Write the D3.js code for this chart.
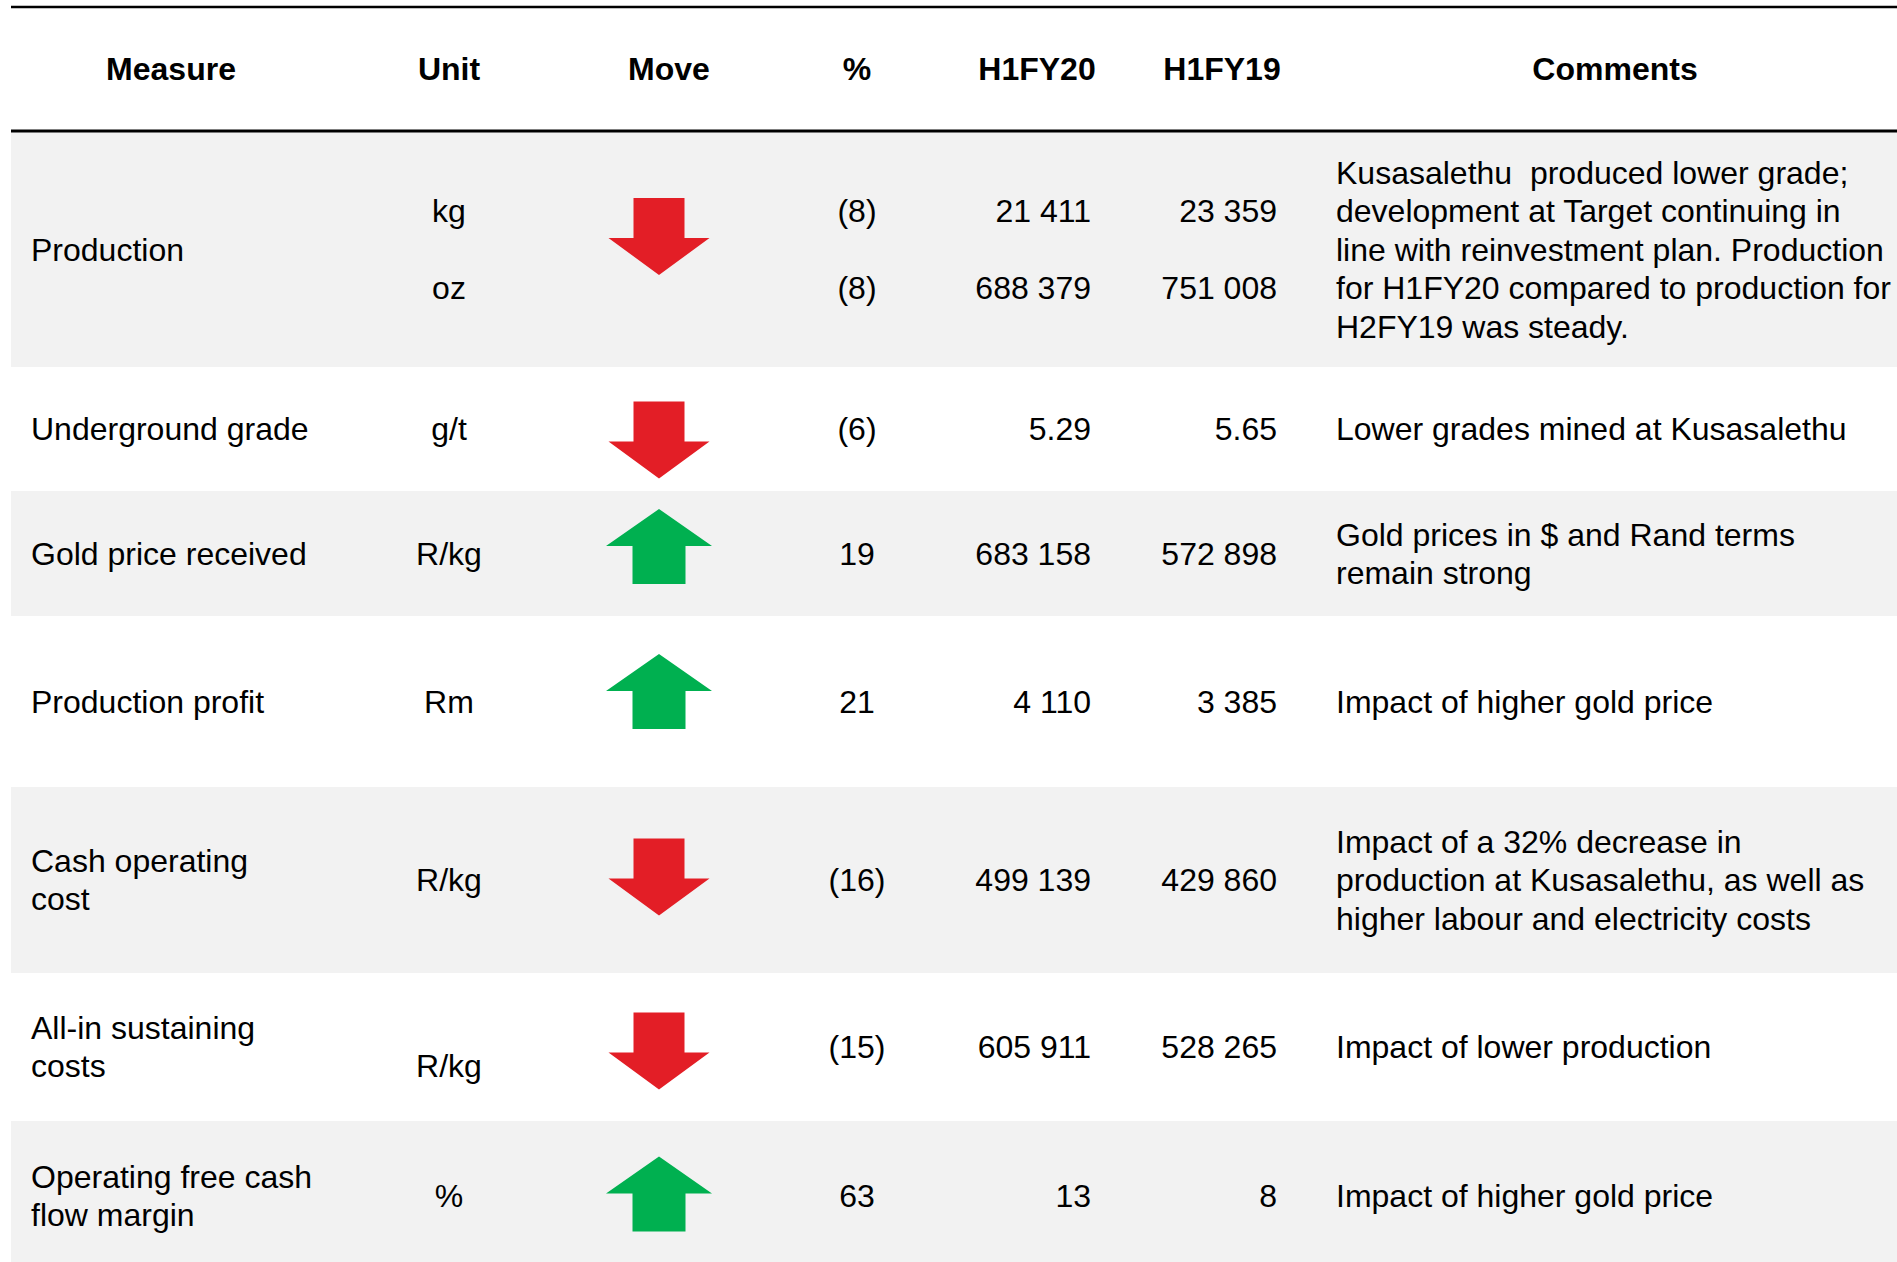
<!DOCTYPE html>
<html>
<head>
<meta charset="utf-8">
<script src="https://cdn.jsdelivr.net/npm/d3@7"></script>
<style>
  html, body { margin: 0; padding: 0; background: #fff; overflow: hidden; }
  svg { display: block; }
  text { font-family: "Liberation Sans", Arial, sans-serif; fill: #000; white-space: pre; }
</style>
</head>
<body>
<svg id="chart"></svg>
<script>
// ---- Table content ----
const headers = ["Measure", "Unit", "Move", "%", "H1FY20", "H1FY19", "Comments"];

const measures = [
  ["Production"],
  ["Underground grade"],
  ["Gold price received"],
  ["Production profit"],
  ["Cash operating", "cost"],
  ["All-in sustaining", "costs"],
  ["Operating free cash", "flow margin"]
];

const units = [["kg", "oz"], ["g/t"], ["R/kg"], ["Rm"], ["R/kg"], ["R/kg"], ["%"]];

// Percentage change, H1FY20 vs H1FY19 (negative = decrease)
const pctChange = [[-8, -8], [-6], [19], [21], [-16], [-15], [63]];

const h1fy20 = [[21411, 688379], [5.29], [683158], [4110], [499139], [605911], [13]];
const h1fy19 = [[23359, 751008], [5.65], [572898], [3385], [429860], [528265], [8]];
const decimals = [0, 2, 0, 0, 0, 0, 0];

const comments = [
  ["Kusasalethu  produced lower grade;",
   "development at Target continuing in",
   "line with reinvestment plan. Production",
   "for H1FY20 compared to production for",
   "H2FY19 was steady."],
  ["Lower grades mined at Kusasalethu"],
  ["Gold prices in $ and Rand terms", "remain strong"],
  ["Impact of higher gold price"],
  ["Impact of a 32% decrease in",
   "production at Kusasalethu, as well as",
   "higher labour and electricity costs"],
  ["Impact of lower production"],
  ["Impact of higher gold price"]
];

// ---- Layout ----
const W = 1897, H = 1262;
const fontSize = 32, lineH = 38.4;
const tableLeft = 11;
const headerTop = 7, headerBottom = 131;
const rowHeights = [235, 124, 125, 171, 186, 148, 150];
const arrowShift = [-13, 11, -7, -10, -3, 4, -2];   // vertical nudge of each arrow
const unitShift = [0, 0, 0, 0, 0, 19, 0];           // unit label nudge
const subSpacing = 76.8;                             // spacing of stacked kg/oz values

const colX = {
  measure: 31, unit: 449, move: 659, pct: 857,
  v20: 1091, v19: 1277, comment: 1336
};
const headerX = [171, 449, 669, 857, 1037, 1222, 1615];

const rowTops = [headerBottom + 1, ...d3.cumsum(rowHeights).map(d => headerBottom + 1 + d)];
const y = d3.scaleOrdinal().domain(d3.range(measures.length)).range(rowTops.slice(0, -1));

const locale = d3.formatLocale({ decimal: ".", thousands: " ", grouping: [3], currency: ["", ""] });
const fmtNum = (v, dp) => dp ? locale.format(",." + dp + "f")(v) : locale.format(",d")(v);
const fmtPct = v => v < 0 ? "(" + (-v) + ")" : String(v);

const svg = d3.select("#chart").attr("width", W).attr("height", H);

// Row backgrounds (alternating grey / white)
svg.append("g").selectAll("rect")
  .data(rowHeights)
  .join("rect")
  .attr("x", tableLeft)
  .attr("y", (d, i) => y(i))
  .attr("width", W - tableLeft)
  .attr("height", d => d)
  .attr("fill", (d, i) => i % 2 === 0 ? "#f2f2f2" : "#ffffff");

// Rules
svg.append("line")
  .attr("x1", tableLeft).attr("x2", W)
  .attr("y1", headerTop).attr("y2", headerTop)
  .attr("stroke", "#000").attr("stroke-width", 2.5);
svg.append("line")
  .attr("x1", tableLeft).attr("x2", W)
  .attr("y1", headerBottom).attr("y2", headerBottom)
  .attr("stroke", "#000").attr("stroke-width", 3);

// Header
svg.append("g").selectAll("text")
  .data(headers)
  .join("text")
  .attr("x", (d, i) => headerX[i])
  .attr("y", (headerTop + headerBottom) / 2)
  .attr("dy", "0.35em")
  .attr("text-anchor", "middle")
  .attr("font-weight", "bold")
  .attr("font-size", fontSize)
  .text(d => d);

const rowCenter = i => y(i) + rowHeights[i] / 2;

// Multi-line text block centred on a row
function block(g, lines, x, cy, anchor, spacing) {
  const n = lines.length;
  lines.forEach((t, k) => {
    g.append("text")
      .attr("x", x)
      .attr("y", cy + (k - (n - 1) / 2) * spacing)
      .attr("dy", "0.35em")
      .attr("text-anchor", anchor)
      .attr("font-size", fontSize)
      .text(t);
  });
}

// Arrow glyphs
function arrowPath(dir) {
  const p = d3.path();
  if (dir === "down") {
    const sw = 25.5, sh = 40, hw = 50.5, hh = 37, top = -(sh + hh) / 2;
    p.moveTo(-sw, top); p.lineTo(sw, top); p.lineTo(sw, top + sh);
    p.lineTo(hw, top + sh); p.lineTo(0, top + sh + hh); p.lineTo(-hw, top + sh);
    p.lineTo(-sw, top + sh); p.closePath();
  } else {
    const sw = 26.5, sh = 38, hw = 53, hh = 37, top = -(sh + hh) / 2;
    p.moveTo(0, top); p.lineTo(hw, top + hh); p.lineTo(sw, top + hh);
    p.lineTo(sw, top + hh + sh); p.lineTo(-sw, top + hh + sh); p.lineTo(-sw, top + hh);
    p.lineTo(-hw, top + hh); p.closePath();
  }
  return p.toString();
}

const body = svg.append("g");
measures.forEach((m, i) => {
  const g = body.append("g");
  const cy = rowCenter(i);
  block(g, m, colX.measure, cy, "start", lineH);
  block(g, units[i], colX.unit, cy + unitShift[i], "middle", subSpacing);
  block(g, pctChange[i].map(fmtPct), colX.pct, cy, "middle", subSpacing);
  block(g, h1fy20[i].map(v => fmtNum(v, decimals[i])), colX.v20, cy, "end", subSpacing);
  block(g, h1fy19[i].map(v => fmtNum(v, decimals[i])), colX.v19, cy, "end", subSpacing);
  block(g, comments[i], colX.comment, cy, "start", lineH);

  const dir = pctChange[i][0] < 0 ? "down" : "up";
  g.append("path")
    .attr("d", arrowPath(dir))
    .attr("transform", `translate(${colX.move},${cy + arrowShift[i]})`)
    .attr("fill", dir === "down" ? "#e31e26" : "#00b050");
});
</script>
</body>
</html>
